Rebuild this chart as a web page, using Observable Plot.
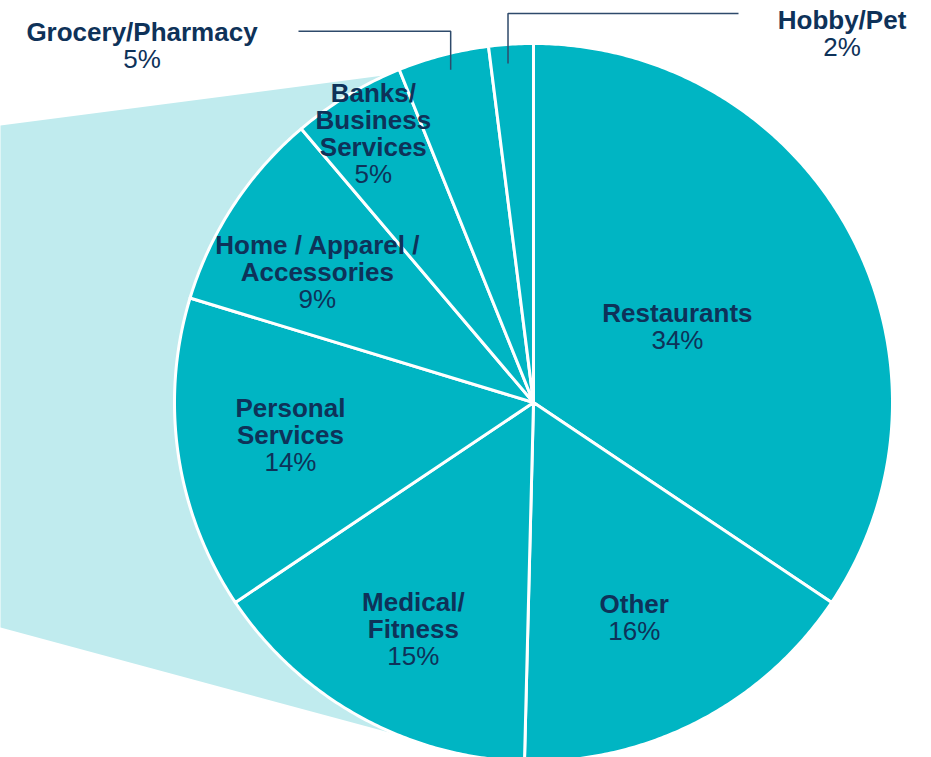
<!DOCTYPE html>
<html><head><meta charset="utf-8">
<script src="https://cdn.jsdelivr.net/npm/d3@7"></script>
<script src="https://cdn.jsdelivr.net/npm/@observablehq/plot@0.6"></script>
<style>html,body{margin:0;padding:0;background:#fff;overflow:hidden;} svg{display:block}</style>
</head><body><div id="chart"></div>
<script>
// ---- data ----
const categories = ["Restaurants", "Other", "Medical/\nFitness", "Personal\nServices", "Home / Apparel /\nAccessories", "Banks/\nBusiness\nServices", "Grocery/Pharmacy", "Hobby/Pet"];
const shares = [34.4, 16.0, 15.2, 14.1, 9.1, 5.1, 4.1, 2.0];
const shareLabels = ["34%", "16%", "15%", "14%", "9%", "5%", "5%", "2%"];

// ---- layout (not data) ----
const W = 931, H = 757, CX = 533, CY = 402, R = 359, LINE = 27;
const insideRadius = [0.454, 0.66, 0.713, 0.683, 0.704, 0.873, null, null];
const labelAngleShift = [0.1, 2.2, -0.8, 0.9, -2.1, 0.4, 0.6, -0.7]; // degrees
const outside = {
  6: {x: 141.5, baseline: 40, leaderY: 30.7, leaderEndX: 298, leaderR: 0.955},
  7: {x: 841.5, baseline: 28, leaderY: 13, leaderEndX: 738, leaderR: 0.947}
};
const connector = [[0, 125], [383, 75], [CX, CY], [400, 735], [0, 627]];
const TEAL = "#00B5C3", LIGHT = "#C0EBEE", NAVY = "#0E3259", LEADER = "#2E4A6B";
const FONT = "Liberation Sans, Arial, sans-serif";

// ---- geometry ----
const total = d3.sum(shares);
let acc = 0;
const slices = shares.map((v, i) => {
  const a0 = acc / total * 2 * Math.PI; acc += v;
  const a1 = acc / total * 2 * Math.PI;
  return {i, a0, a1, mid: (a0 + a1) / 2 + labelAngleShift[i] * Math.PI / 180};
});
const slicePts = [];
for (const s of slices) {
  slicePts.push({k: s.i, x: CX, y: CY});
  const n = Math.max(2, Math.ceil((s.a1 - s.a0) / (Math.PI / 360)));
  for (let j = 0; j <= n; j++) {
    const a = s.a0 + (s.a1 - s.a0) * j / n;
    slicePts.push({k: s.i, x: CX + R * Math.sin(a), y: CY - R * Math.cos(a)});
  }
}
const connPts = connector.map(([x, y]) => ({x, y}));

const nameRows = [], pctRows = [], leaderPts = [];
for (const s of slices) {
  const lines = categories[s.i].split("\n");
  if (insideRadius[s.i] != null) {
    const r = insideRadius[s.i] * R;
    const cx = CX + r * Math.sin(s.mid), cy = CY - r * Math.cos(s.mid);
    const n = lines.length + 1;
    const first = cy - (n - 1) * LINE / 2 + 9.3;
    lines.forEach((t, j) => nameRows.push({x: cx, y: first + j * LINE, t}));
    pctRows.push({x: cx, y: first + lines.length * LINE, t: shareLabels[s.i]});
  } else {
    const o = outside[s.i];
    lines.forEach((t, j) => nameRows.push({x: o.x, y: o.baseline + j * LINE, t}));
    pctRows.push({x: o.x, y: o.baseline + lines.length * LINE, t: shareLabels[s.i]});
    const sx = CX + o.leaderR * R * Math.sin(s.mid), sy = CY - o.leaderR * R * Math.cos(s.mid);
    leaderPts.push({k: s.i, x: sx, y: sy}, {k: s.i, x: sx, y: o.leaderY}, {k: s.i, x: o.leaderEndX, y: o.leaderY});
  }
}

const chart = Plot.plot({
  width: W, height: H, margin: 0,
  style: {background: "white", fontFamily: FONT},
  x: {domain: [0, W], range: [0, W], axis: null},
  y: {domain: [0, H], range: [0, H], axis: null},
  marks: [
    Plot.line(connPts, {x: "x", y: "y", fill: LIGHT, stroke: "none", curve: "linear-closed"}),
    Plot.line(slicePts, {x: "x", y: "y", z: "k", fill: TEAL, stroke: "white", strokeWidth: 3, curve: "linear-closed"}),
    Plot.line(leaderPts, {x: "x", y: "y", z: "k", stroke: LEADER, strokeWidth: 1.5, strokeLinejoin: "miter", strokeLinecap: "butt"}),
    Plot.text(nameRows, {x: "x", y: "y", text: "t", fontWeight: "bold", fontSize: 26, fill: NAVY, lineAnchor: "bottom", textAnchor: "middle", fontFamily: FONT}),
    Plot.text(pctRows, {x: "x", y: "y", text: "t", fontSize: 26, fill: NAVY, lineAnchor: "bottom", textAnchor: "middle", fontFamily: FONT})
  ]
});
document.getElementById("chart").appendChild(chart);
</script>
</body></html>
